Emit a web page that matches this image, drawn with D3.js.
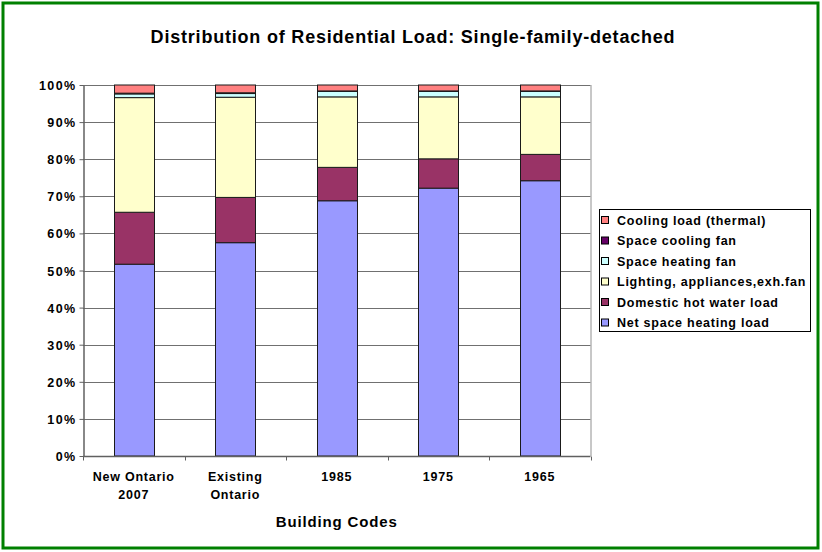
<!DOCTYPE html>
<html><head><meta charset="utf-8">
<script src="https://cdn.jsdelivr.net/npm/d3@7"></script>
<style>
body{margin:0;background:#fff;}
text{font-family:"Liberation Sans",Arial,sans-serif;font-weight:bold;fill:#000;}
</style></head>
<body><svg id="c" width="822" height="552"></svg>
<script>
const categories = [["New Ontario","2007"],["Existing","Ontario"],["1985"],["1975"],["1965"]];
const seriesNames = ["Net space heating load","Domestic hot water load","Lighting, appliances,exh.fan","Space heating fan","Space cooling fan","Cooling load (thermal)"];
const seriesColors = ["#9999FF","#993366","#FFFFCC","#CCFFFF","#660066","#FF8080"];
const netHeating  = [51.7, 57.5, 68.8, 72.2, 74.2];
const hotWater    = [14.0, 12.2,  9.0,  7.9,  7.1];
const lighting    = [30.9, 27.0, 19.0, 16.7, 15.5];
const heatingFan  = [ 1.0,  1.0,  1.5,  1.5,  1.5];
const coolingFan  = [ 0.2,  0.2,  0.1,  0.1,  0.1];
const coolingLoad = [ 2.2,  2.1,  1.6,  1.6,  1.6];
const yTicks = [0,10,20,30,40,50,60,70,80,90,100];
const title = "Distribution of Residential Load: Single-family-detached";
const xTitle = "Building Codes";

const svg = d3.select("#c");
svg.append("rect").attr("x",3).attr("y",3).attr("width",815).attr("height",545)
  .attr("fill","#fff").attr("stroke","#008000").attr("stroke-width",3);

const L=83, R=590.5, T=85, B=456;
const seriesArrays=[netHeating,hotWater,lighting,heatingFan,coolingFan,coolingLoad];
const rows = categories.map((c,i)=>{const o={key:i};seriesNames.forEach((s,j)=>o[s]=seriesArrays[j][i]);return o;});
const stack = d3.stack().keys(seriesNames).offset(d3.stackOffsetExpand)(rows);

const x = d3.scaleBand().domain(d3.range(categories.length)).range([L,R]).paddingInner(0).paddingOuter(0);
const y = d3.scaleLinear().domain([0,1]).range([B,T]);
const barW = 40;

// gridlines
svg.append("g").selectAll("line").data(yTicks.filter(t=>t>0)).join("line")
  .attr("x1",L).attr("x2",R).attr("y1",d=>Math.round(y(d/100))+0.5).attr("y2",d=>Math.round(y(d/100))+0.5)
  .attr("stroke","#707070").attr("stroke-width",1);
// plot right border
svg.append("line").attr("x1",R+0.5).attr("x2",R+0.5).attr("y1",T).attr("y2",B).attr("stroke","#909090");

// bars
svg.append("g").selectAll("g").data(stack).join("g").attr("fill",(d,i)=>seriesColors[i])
  .selectAll("rect").data(d=>d).join("rect")
  .attr("x",(d,i)=>Math.round(x(i)+x.bandwidth()/2-barW/2)+0.5)
  .attr("width",barW)
  .attr("y",d=>y(d[1]))
  .attr("height",d=>Math.max(0,y(d[0])-y(d[1])))
  .attr("stroke","#1a1a1a").attr("stroke-width",1);

// y axis
const yAxis = d3.axisLeft(y).tickValues(yTicks.map(t=>t/100)).tickFormat(d=>Math.round(d*100)+"%").tickSize(4).tickSizeOuter(0);
const gy = svg.append("g").attr("transform",`translate(${L+0.5},0)`).call(yAxis);
gy.select(".domain").attr("stroke","#606060").attr("stroke-width",1.5);
gy.selectAll(".tick line").attr("stroke","#606060");
gy.selectAll(".tick text").attr("x",-7).attr("dy","0.36em")
  .style("font-size","12.5px").style("letter-spacing","1.4px")
  .style("font-family","Liberation Sans, Arial, sans-serif").style("font-weight","bold");

// x axis
const gx = svg.append("g").attr("transform",`translate(0,${B+0.5})`);
gx.append("line").attr("x1",L).attr("x2",R).attr("stroke","#606060").attr("stroke-width",1.5);
gx.selectAll("line.t").data(d3.range(categories.length+1)).join("line").attr("class","t")
  .attr("x1",i=>Math.round(i<categories.length?x(i):R)+0.5).attr("x2",i=>Math.round(i<categories.length?x(i):R)+0.5)
  .attr("y1",0).attr("y2",4).attr("stroke","#606060");
const labs = gx.selectAll("text").data(categories).join("text")
  .attr("text-anchor","middle").attr("x",(d,i)=>x(i)+x.bandwidth()/2).attr("y",24)
  .style("font-size","12.5px").style("letter-spacing","0.75px");
labs.selectAll("tspan").data(d=>d).join("tspan")
  .attr("x",function(){return d3.select(this.parentNode).attr("x");})
  .attr("dy",(d,i)=>i===0?0:18).text(d=>d);

// titles
svg.append("text").attr("x",413).attr("y",43).attr("text-anchor","middle")
  .style("font-size","18px").style("letter-spacing","0.8px").text(title);
svg.append("text").attr("x",(L+R)/2).attr("y",527).attr("text-anchor","middle")
  .style("font-size","15px").style("letter-spacing","0.85px").text(xTitle);

// legend
const lg = svg.append("g");
lg.append("rect").attr("x",599.5).attr("y",209.5).attr("width",211).attr("height",122).attr("fill","#fff").attr("stroke","#000");
const order = d3.range(seriesNames.length).reverse();
const items = lg.selectAll("g.item").data(order).join("g").attr("class","item")
  .attr("transform",(d,i)=>`translate(0,${220+i*20.5})`);
items.append("rect").attr("x",601.5).attr("y",-3.5).attr("width",7).attr("height",7)
  .attr("fill",d=>seriesColors[d]).attr("stroke","#000").attr("stroke-width",1);
items.append("text").attr("x",617).attr("y",0).attr("dy","0.36em")
  .style("font-size","12.5px").style("letter-spacing","0.75px").text(d=>seriesNames[d]);
</script></body></html>
